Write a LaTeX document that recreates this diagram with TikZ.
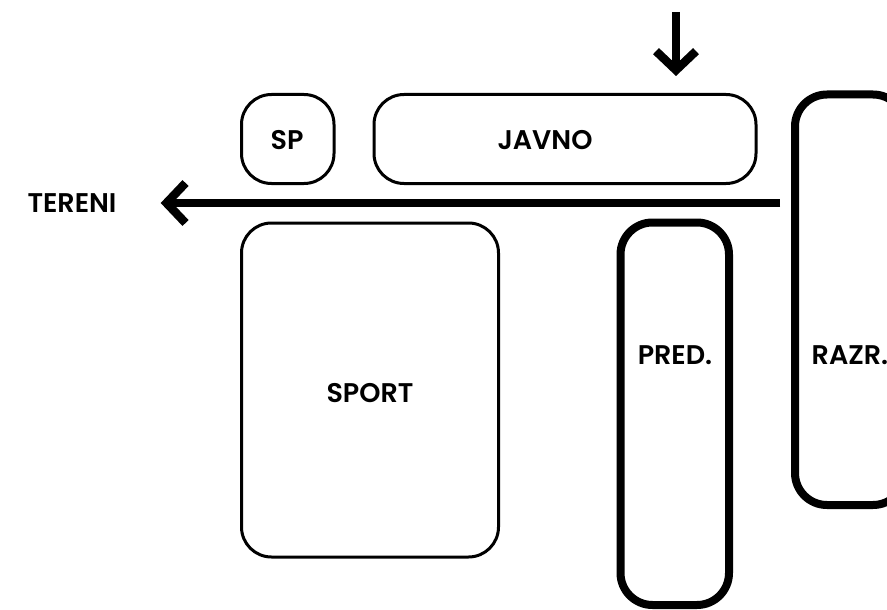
\documentclass[tikz,border=0pt]{standalone}
\usepackage{fontspec}
\setmainfont{Poppins}[BoldFont={* SemiBold}]
\usetikzlibrary{arrows.meta,fit}
\begin{document}
\begin{tikzpicture}[x=1pt,y=-1pt,
  thinbox/.style={draw, line width=3pt, rounded corners=30pt, inner sep=0pt},
  thickbox/.style={draw, line width=8pt, rounded corners=32pt, inner sep=0pt},
  lbl/.style={inner sep=0pt, font=\fontsize{27}{27}\selectfont\bfseries},
  bigarrow/.style={line width=8.5pt, -{Straight Barb[length=19pt, width=40pt]}}]
\useasboundingbox (0,0) rectangle (887,610);
\begin{scope}
\clip (0,0) rectangle (887,610);
\node[thinbox, fit={(241.5,94.5) (334,183.5)}] (sp) {};
\node[thinbox, fit={(374,94.5) (756,183.5)}] (javno) {};
\node[thinbox, fit={(241.5,223) (498.5,557)}] (sport) {};
\node[thickbox, fit={(620.5,222.5) (729,605)}] (pred) {};
\node[thickbox, fit={(795,94.5) (905,505)}] (razr) {};
\end{scope}
\node[lbl] (tsp) at (287,140) {SP};
\node[lbl] (tjavno) at (545,140) {JAVNO};
\node[lbl] (tsport) at (370,393) {SPORT};
\node[lbl] (tpred) at (675,355) {PRED.};
\node[lbl] (trazr) at (850,355) {RAZR.};
\node[lbl] (tereni) at (72,203) {TERENI};
\coordinate (hstart) at (780,203);
\coordinate (vstart) at (676,12);
\coordinate (vend) at (676,76);
\draw[bigarrow, shorten >=44pt] (hstart) -- (tereni.east);
\draw[bigarrow] (vstart) -- (vend);
\end{tikzpicture}
\end{document}
